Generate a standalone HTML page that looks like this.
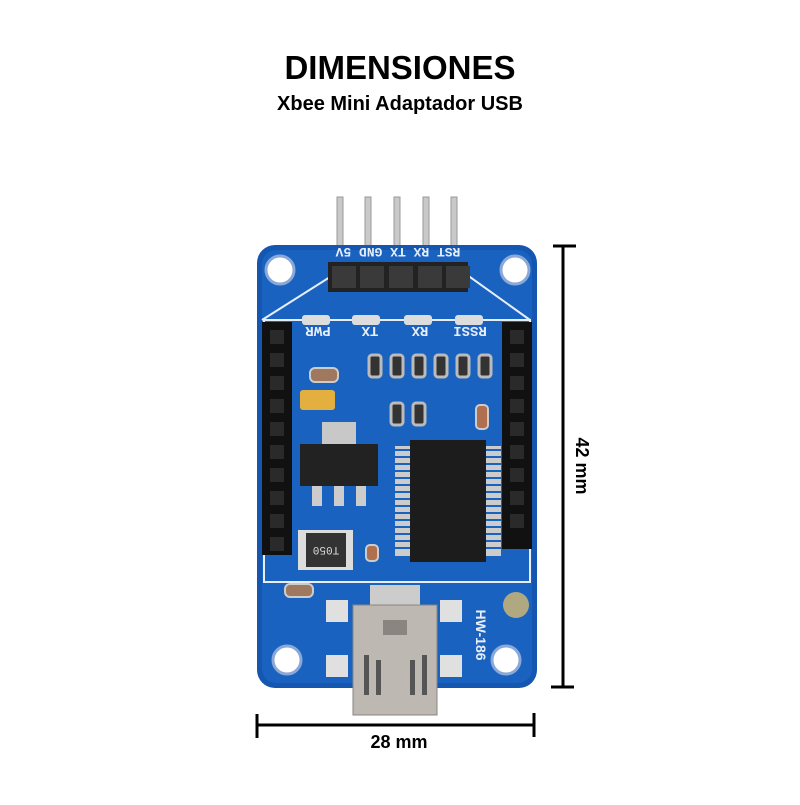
<!DOCTYPE html>
<html><head><meta charset="utf-8"><style>
html,body{margin:0;padding:0;background:#fff;}
body{width:800px;height:800px;overflow:hidden;font-family:"Liberation Sans",sans-serif;}
</style></head><body>
<svg width="800" height="800" viewBox="0 0 800 800" xmlns="http://www.w3.org/2000/svg">
<rect width="800" height="800" fill="#fff"/>
<text x="400" y="79" text-anchor="middle" font-family="Liberation Sans" font-weight="bold" font-size="33" fill="#000">DIMENSIONES</text>
<text x="400" y="110" text-anchor="middle" font-family="Liberation Sans" font-weight="bold" font-size="20" fill="#000">Xbee Mini Adaptador USB</text>

<!-- pins -->
<g fill="#c9c9c9" stroke="#999" stroke-width="1">
<rect x="337" y="197" width="6" height="70"/><rect x="365" y="197" width="6" height="70"/><rect x="394" y="197" width="6" height="70"/><rect x="423" y="197" width="6" height="70"/><rect x="451" y="197" width="6" height="70"/>
</g>
<!-- board -->
<rect x="257" y="245" width="280" height="443" rx="18" fill="#1456b0"/>
<rect x="262" y="250" width="270" height="433" rx="14" fill="#1a62c0"/>
<path d="M262 320 L330 277 L470 277 L530 320" fill="none" stroke="#e8eef8" stroke-width="2"/>
<rect x="264" y="320" width="266" height="262" fill="none" stroke="#e8eef8" stroke-width="2"/>
<!-- holes -->
<g fill="#fff" stroke="#8aa8d8" stroke-width="3">
<circle cx="280" cy="270" r="14"/><circle cx="515" cy="270" r="14"/><circle cx="287" cy="660" r="14"/><circle cx="506" cy="660" r="14"/>
</g>
<!-- header -->
<rect x="328" y="262" width="140" height="30" fill="#222"/>
<g fill="#3a3a3a"><rect x="332" y="266" width="24" height="22"/><rect x="360" y="266" width="24" height="22"/><rect x="389" y="266" width="24" height="22"/><rect x="418" y="266" width="24" height="22"/><rect x="446" y="266" width="24" height="22"/></g>
<text x="398" y="258" text-anchor="middle" font-family="Liberation Mono" font-weight="bold" font-size="13" fill="#e8eef8" transform="rotate(180 398 253)">RST RX TX GND 5V</text>
<!-- side headers -->
<rect x="262" y="322" width="30" height="233" fill="#111"/>
<rect x="502" y="322" width="30" height="227" fill="#111"/>
<g fill="#2a2a2a">
<rect x="270" y="330" width="14" height="14"/><rect x="270" y="353" width="14" height="14"/><rect x="270" y="376" width="14" height="14"/><rect x="270" y="399" width="14" height="14"/><rect x="270" y="422" width="14" height="14"/><rect x="270" y="445" width="14" height="14"/><rect x="270" y="468" width="14" height="14"/><rect x="270" y="491" width="14" height="14"/><rect x="270" y="514" width="14" height="14"/><rect x="270" y="537" width="14" height="14"/>
<rect x="510" y="330" width="14" height="14"/><rect x="510" y="353" width="14" height="14"/><rect x="510" y="376" width="14" height="14"/><rect x="510" y="399" width="14" height="14"/><rect x="510" y="422" width="14" height="14"/><rect x="510" y="445" width="14" height="14"/><rect x="510" y="468" width="14" height="14"/><rect x="510" y="491" width="14" height="14"/><rect x="510" y="514" width="14" height="14"/>
</g>
<!-- LEDs -->
<g fill="#ddd"><rect x="302" y="315" width="28" height="10" rx="3"/><rect x="352" y="315" width="28" height="10" rx="3"/><rect x="404" y="315" width="28" height="10" rx="3"/><rect x="455" y="315" width="28" height="10" rx="3"/></g>
<g font-family="Liberation Mono" font-weight="bold" font-size="14" fill="#e8eef8" text-anchor="middle">
<text x="318" y="337" transform="rotate(180 318 332)">PWR</text>
<text x="370" y="337" transform="rotate(180 370 332)">TX</text>
<text x="420" y="337" transform="rotate(180 420 332)">RX</text>
<text x="470" y="337" transform="rotate(180 470 332)">RSSI</text>
</g>
<!-- resistors -->
<g fill="#333" stroke="#bbb" stroke-width="3">
<rect x="369" y="355" width="12" height="22" rx="3"/><rect x="391" y="355" width="12" height="22" rx="3"/><rect x="413" y="355" width="12" height="22" rx="3"/><rect x="435" y="355" width="12" height="22" rx="3"/><rect x="457" y="355" width="12" height="22" rx="3"/><rect x="479" y="355" width="12" height="22" rx="3"/>
<rect x="391" y="403" width="12" height="22" rx="3"/><rect x="413" y="403" width="12" height="22" rx="3"/>
</g>
<rect x="310" y="368" width="28" height="14" rx="5" fill="#a07860" stroke="#ccc" stroke-width="2"/>
<rect x="300" y="390" width="35" height="20" rx="3" fill="#e3b040"/>
<rect x="476" y="405" width="12" height="24" rx="4" fill="#b07050" stroke="#ccc" stroke-width="2"/>
<rect x="366" y="545" width="12" height="16" rx="4" fill="#b07050" stroke="#ccc" stroke-width="2"/>
<rect x="285" y="584" width="28" height="13" rx="5" fill="#a07860" stroke="#ccc" stroke-width="2"/>
<!-- regulator -->
<rect x="322" y="422" width="34" height="22" fill="#c8c8c8"/>
<rect x="300" y="444" width="78" height="42" fill="#222"/>
<g fill="#ccc"><rect x="312" y="486" width="10" height="20"/><rect x="334" y="486" width="10" height="20"/><rect x="356" y="486" width="10" height="20"/></g>
<rect x="298" y="530" width="55" height="40" fill="#ddd"/>
<rect x="306" y="533" width="40" height="34" fill="#333"/>
<text x="326" y="555" text-anchor="middle" font-family="Liberation Mono" font-size="11" fill="#ddd" transform="rotate(180 326 551)">T050</text>
<!-- IC -->
<g fill="#ccc"><rect x="395" y="446" width="106" height="110"/></g>
<rect x="398" y="446" width="100" height="110" fill="none"/>
<g stroke="#1a62c0" stroke-width="2">
<line x1="395" y1="450" x2="501" y2="450"/><line x1="395" y1="457" x2="501" y2="457"/><line x1="395" y1="464" x2="501" y2="464"/><line x1="395" y1="471" x2="501" y2="471"/><line x1="395" y1="478" x2="501" y2="478"/><line x1="395" y1="485" x2="501" y2="485"/><line x1="395" y1="492" x2="501" y2="492"/><line x1="395" y1="499" x2="501" y2="499"/><line x1="395" y1="506" x2="501" y2="506"/><line x1="395" y1="513" x2="501" y2="513"/><line x1="395" y1="520" x2="501" y2="520"/><line x1="395" y1="527" x2="501" y2="527"/><line x1="395" y1="534" x2="501" y2="534"/><line x1="395" y1="541" x2="501" y2="541"/><line x1="395" y1="548" x2="501" y2="548"/>
</g>
<rect x="410" y="440" width="76" height="122" fill="#1c1c1c"/>
<!-- pads -->
<g fill="#e0e0e0"><rect x="326" y="600" width="22" height="22"/><rect x="440" y="600" width="22" height="22"/><rect x="326" y="655" width="22" height="22"/><rect x="440" y="655" width="22" height="22"/></g>
<circle cx="516" cy="605" r="13" fill="#b0a880"/>
<text x="476" y="635" text-anchor="middle" font-family="Liberation Sans" font-weight="bold" font-size="14" fill="#e8eef8" transform="rotate(90 476 635)">HW-186</text>
<!-- USB -->
<rect x="370" y="585" width="50" height="20" fill="#ccc"/>
<rect x="353" y="605" width="84" height="110" fill="#bdb8b2" stroke="#8a8580" stroke-width="1"/>
<rect x="383" y="620" width="24" height="15" fill="#8a8580"/>
<g fill="#555"><rect x="364" y="655" width="5" height="40"/><rect x="376" y="660" width="5" height="35"/><rect x="410" y="660" width="5" height="35"/><rect x="422" y="655" width="5" height="40"/></g>
<!-- dimension lines -->
<g stroke="#000" stroke-width="3">
<line x1="563" y1="246" x2="563" y2="687"/><line x1="553" y1="246" x2="576" y2="246"/><line x1="551" y1="687" x2="574" y2="687"/>
<line x1="257" y1="725" x2="534" y2="725"/><line x1="257" y1="714" x2="257" y2="738"/><line x1="534" y1="713" x2="534" y2="737"/>
</g>
<text x="399" y="748" text-anchor="middle" font-family="Liberation Sans" font-weight="bold" font-size="18" fill="#000">28 mm</text>
<text x="576" y="466" text-anchor="middle" font-family="Liberation Sans" font-weight="bold" font-size="18" fill="#000" transform="rotate(90 576 466)">42 mm</text>
</svg>
</body></html>
